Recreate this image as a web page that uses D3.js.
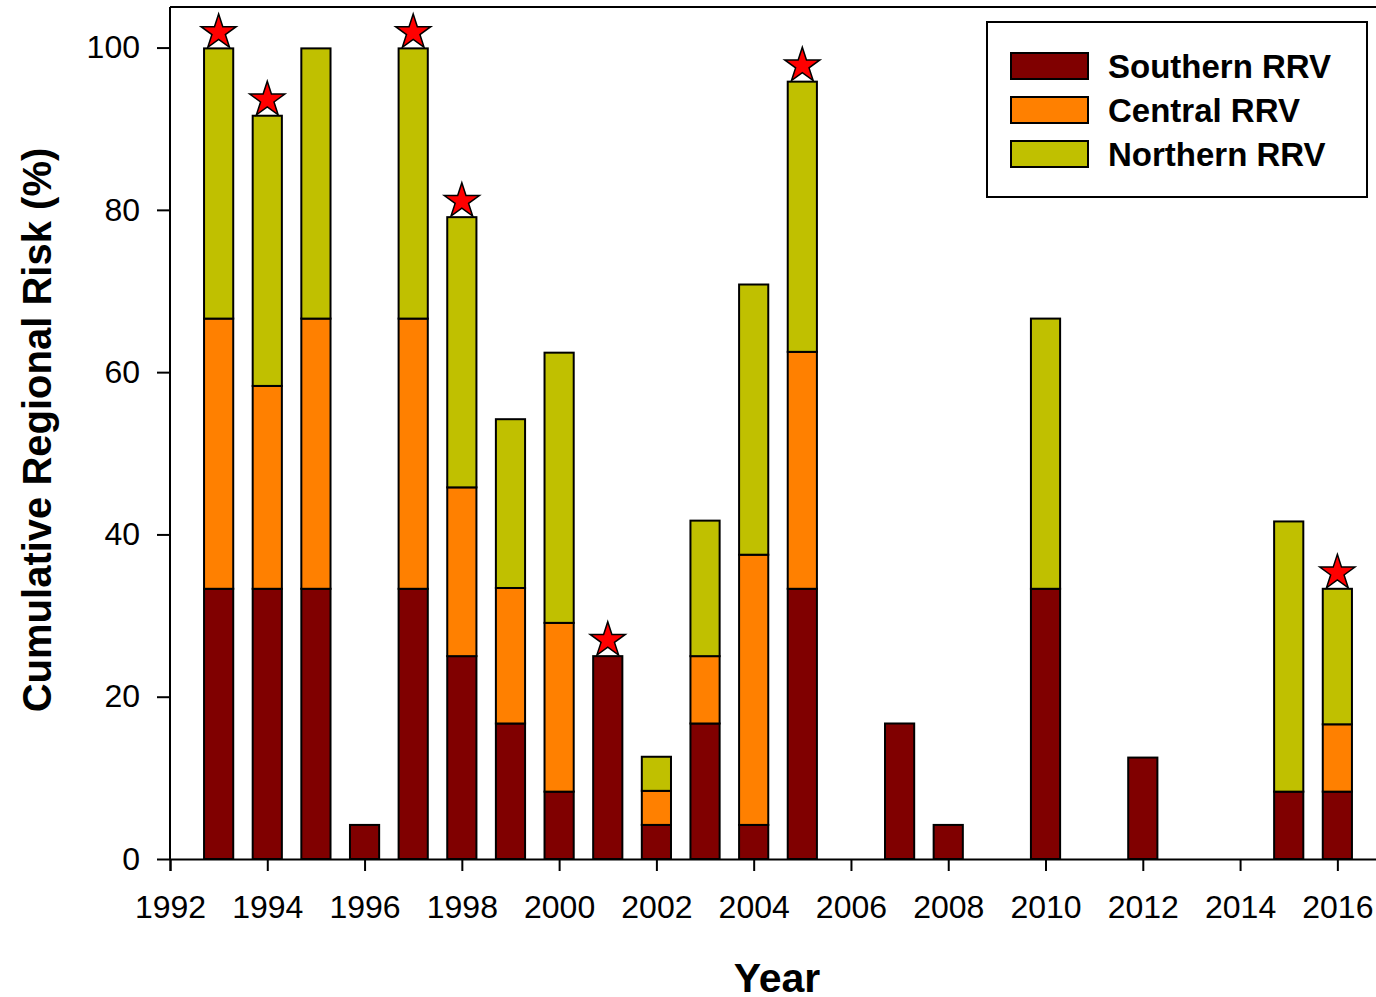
<!DOCTYPE html>
<html>
<head>
  <meta charset="UTF-8">
  <style>
    body { margin: 0; background: white; }
    svg { display: block; font-family: "Liberation Sans", Arial, sans-serif; }
  </style>
</head>
<body>
<svg></svg>
<script src="https://d3js.org/d3.v7.min.js"></script>
<script>

// data (%)
let years    = [1993, 1994, 1995, 1996, 1997, 1998, 1999, 2000, 2001, 2002, 2003, 2004, 2005, 2007, 2008, 2010, 2012, 2015, 2016];
let southern = [33.3, 33.3, 33.3, 4.2, 33.3, 25.0, 16.7, 8.3, 25.0, 4.2, 16.7, 4.2, 33.3, 16.7, 4.2, 33.3, 12.5, 8.3, 8.3];
let central  = [33.3, 25.0, 33.3, 0, 33.3, 20.8, 16.7, 20.8, 0, 4.2, 8.3, 33.3, 29.2, 0, 0, 0, 0, 0, 8.3];
let northern = [33.3, 33.3, 33.3, 0, 33.3, 33.3, 20.8, 33.3, 0, 4.2, 16.7, 33.3, 33.3, 0, 0, 33.3, 0, 33.3, 16.7];
let starYears = [1993, 1994, 1997, 1998, 2001, 2005, 2016];

let regions = ["Southern RRV", "Central RRV", "Northern RRV"];
let colors  = ["#800000", "#FF8000", "#C0C000"];
let keys    = ["southern", "central", "northern"];

let width = 1376, height = 997;

let svg = d3.select("svg")
    .attr("width", width)
    .attr("height", height)
    .attr("viewBox", "0 0 " + width + " " + height);

let x = d3.scaleLinear().domain([1992, 2017]).range([170, 1386]);
let y = d3.scaleLinear().domain([0, 105]).range([859, 7]);
let barW = x(1992.6) - x(1992);

let rows = years.map((yr, i) => ({year: yr, southern: southern[i], central: central[i], northern: northern[i]}));
let stacked = d3.stack().keys(keys)(rows);

// top frame line
svg.append("line")
    .attr("x1", x(1992)).attr("x2", x(2017))
    .attr("y1", y(105)).attr("y2", y(105))
    .attr("stroke", "black").attr("stroke-width", 2);

// bars
svg.append("g")
    .selectAll("g")
    .data(stacked)
    .enter()
    .append("g")
    .attr("fill", (d, i) => colors[i])
    .selectAll("rect")
    .data(d => d.filter(s => s[1] - s[0] > 0))
    .enter()
    .append("rect")
    .attr("x", d => x(d.data.year) - barW / 2)
    .attr("width", barW)
    .attr("y", d => y(d[1]))
    .attr("height", d => y(d[0]) - y(d[1]))
    .attr("stroke", "black")
    .attr("stroke-width", 2);

// axes
let xAxis = d3.axisBottom(x)
    .tickValues(d3.range(1992, 2017, 2))
    .tickFormat(d3.format("d"))
    .tickSizeOuter(0)
    .tickSize(12)
    .tickPadding(24);

let yAxis = d3.axisLeft(y)
    .tickValues([0, 20, 40, 60, 80, 100])
    .tickSizeOuter(0)
    .tickSize(13)
    .tickPadding(17);

let gx = svg.append("g")
    .attr("transform", "translate(0," + y(0) + ")")
    .call(xAxis);

let gy = svg.append("g")
    .attr("transform", "translate(" + x(1992) + ",0)")
    .call(yAxis);

[gx, gy].forEach(g => {
    g.select(".domain").attr("stroke-width", 2);
    g.selectAll(".tick line").attr("stroke-width", 2);
    g.selectAll(".tick text")
        .attr("font-size", "32px")
        .attr("font-family", "Liberation Sans, Arial, sans-serif")
        .attr("fill", "black");
});
gy.select(".domain").attr("d", "M0," + y(105) + "V" + y(0));

// stars
let starSym = d3.symbol().type(d3.symbolStar).size(384);
let starR = Math.sqrt(384 * 0.8908130915292852);
svg.append("g")
    .selectAll("path")
    .data(rows.filter(d => starYears.includes(d.year)))
    .enter()
    .append("path")
    .attr("d", starSym)
    .attr("transform", d => "translate(" + x(d.year) + "," + (y(d.southern + d.central + d.northern) - starR * 0.809 - 1) + ")")
    .attr("fill", "#FF0000")
    .attr("stroke", "black")
    .attr("stroke-width", 1.5);

// axis titles
svg.append("text")
    .attr("transform", "translate(51,430) rotate(-90)")
    .attr("text-anchor", "middle")
    .attr("font-size", "40px")
    .attr("font-weight", "bold")
    .text("Cumulative Regional Risk (%)");

svg.append("text")
    .attr("x", 777)
    .attr("y", 992)
    .attr("text-anchor", "middle")
    .attr("font-size", "41px")
    .attr("font-weight", "bold")
    .text("Year");

// legend
let legend = svg.append("g");
legend.append("rect")
    .attr("x", 987).attr("y", 22)
    .attr("width", 380).attr("height", 175)
    .attr("fill", "white")
    .attr("stroke", "black")
    .attr("stroke-width", 2);

let items = legend.selectAll("g.item")
    .data(regions)
    .enter()
    .append("g")
    .attr("class", "item")
    .attr("transform", (d, i) => "translate(1011," + (53 + i * 44) + ")");

items.append("rect")
    .attr("width", 77).attr("height", 26)
    .attr("fill", (d, i) => colors[i])
    .attr("stroke", "black")
    .attr("stroke-width", 2);

items.append("text")
    .attr("x", 97)
    .attr("y", 13)
    .attr("dy", "0.36em")
    .attr("font-size", "33px")
    .attr("font-weight", "bold")
    .text(d => d);

</script>
</body>
</html>
